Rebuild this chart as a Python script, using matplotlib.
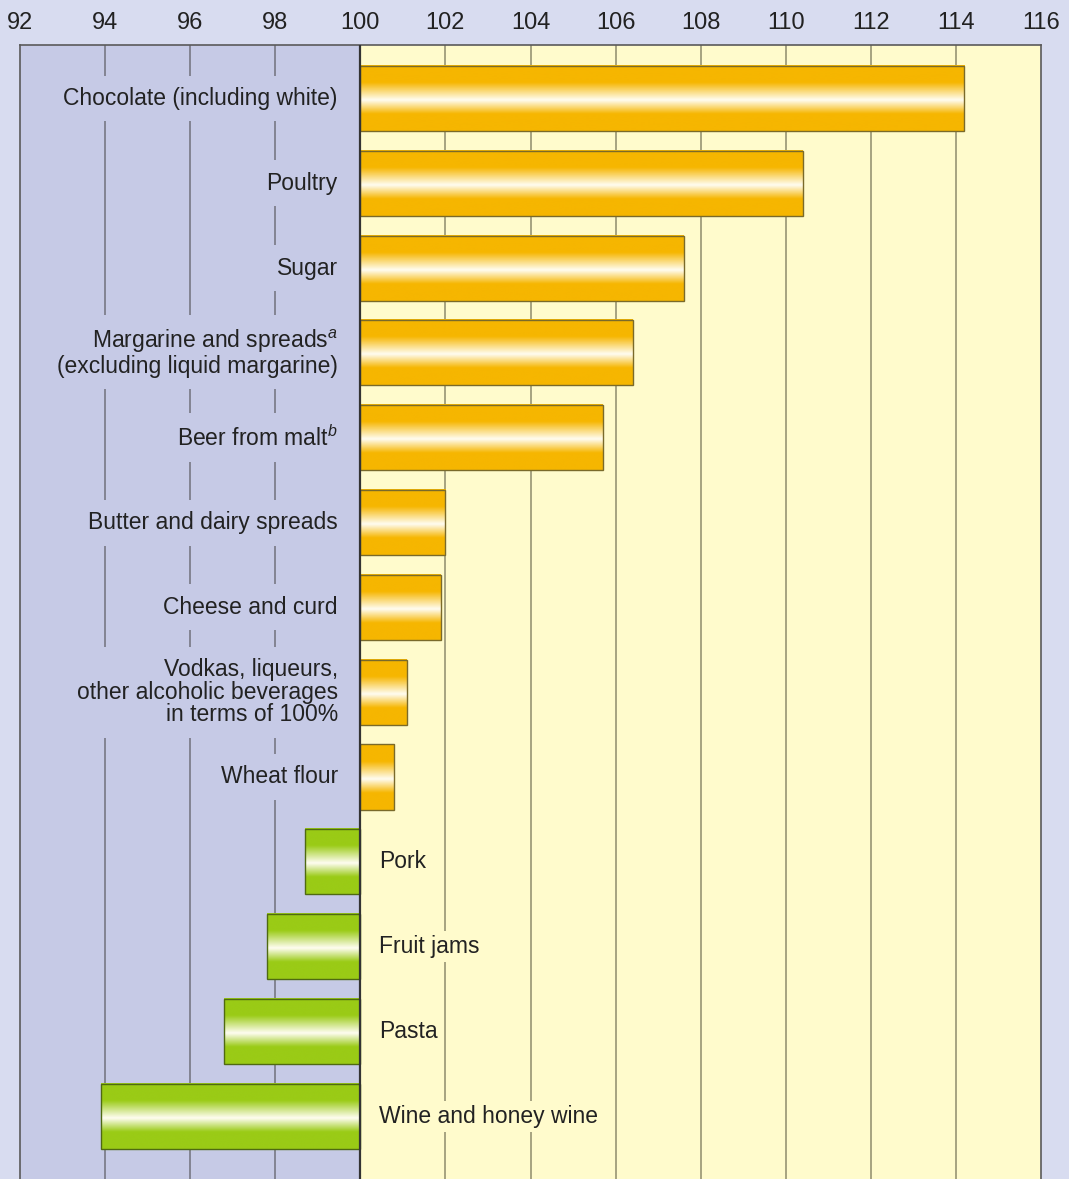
import numpy as np
import matplotlib as mpl
import matplotlib.pyplot as plt
from matplotlib.colors import LinearSegmentedColormap
from matplotlib.patches import Rectangle

plt.rc('font', family='Liberation Sans', size=16.5)
plt.rc('mathtext', fontset='custom', rm='Liberation Sans',
       it='Liberation Sans:italic')

# Index values, previous year = 100
CATEGORIES = [
    'Chocolate (including white)',
    'Poultry',
    'Sugar',
    'Margarine and spreads$^{a}$\n(excluding liquid margarine)',
    'Beer from malt$^{b}$',
    'Butter and dairy spreads',
    'Cheese and curd',
    'Vodkas, liqueurs,\nother alcoholic beverages\nin terms of 100%',
    'Wheat flour',
    'Pork',
    'Fruit jams',
    'Pasta',
    'Wine and honey wine',
]
VALUES = [114.2, 110.4, 107.6, 106.4, 105.7, 102.0, 101.9, 101.1, 100.8,
          98.7, 97.8, 96.8, 93.9]
TICKS = list(range(92, 117, 2))

BASE = 100
OUTER_BG = '#d8dcf0'
LEFT_BG = '#c6cae6'
RIGHT_BG = '#fffbcc'
ORANGE = '#f6b600'
GREEN = '#9acb16'
GRID_LEFT = '#70707c'
GRID_RIGHT = '#8e8c6c'

BAR_H = 0.767


def gradient_cmap(color):
    return LinearSegmentedColormap.from_list(
        'shine', [(0, color), (0.26, color), (0.53, '#fffdf2'),
                  (0.74, color), (1, color)])


fig = plt.figure(figsize=(10.69, 11.79), dpi=100, facecolor=OUTER_BG)
ax = fig.add_axes([20 / 1069, 0, 1021 / 1069, 1 - 45 / 1179])
ax.set_facecolor(RIGHT_BG)
ax.axvspan(92, BASE, color=LEFT_BG, zorder=0, lw=0)

for t in TICKS[1:-1]:
    if t != BASE:
        ax.axvline(t, color=GRID_LEFT if t < BASE else GRID_RIGHT,
                   lw=1.1, zorder=1)

grad = np.linspace(0, 1, 200).reshape(-1, 1)
for i, (cat, val) in enumerate(zip(CATEGORIES, VALUES)):
    y = -i
    up = val >= BASE
    color = ORANGE if up else GREEN
    x0, x1 = (BASE, val) if up else (val, BASE)
    ax.imshow(grad, cmap=gradient_cmap(color), origin='upper', aspect='auto',
              extent=(x0, x1, y - BAR_H / 2, y + BAR_H / 2),
              interpolation='bicubic', zorder=3)
    ax.add_patch(Rectangle((x0, y - BAR_H / 2), x1 - x0, BAR_H, fill=False,
                           edgecolor='#7a6a2a' if up else '#4f6a12',
                           lw=1.0, zorder=4))
    # labels sit on a patch of background so they cut through the grid
    if up:
        ax.text(BASE - 0.53, y, cat, ha='right', va='center', color='#222222',
                linespacing=0.97, multialignment='right', zorder=2,
                bbox=dict(boxstyle='square,pad=0.5', fc=LEFT_BG, ec='none'))
    else:
        ax.text(BASE + 0.45, y, cat, ha='left', va='center', color='#222222',
                zorder=2,
                bbox=dict(boxstyle='square,pad=0.18', fc=RIGHT_BG, ec='none'))

ax.axvline(BASE, color='#333333', lw=1.6, zorder=5)

ax.set_xlim(92, 116)
ax.set_ylim(-12.74, 0.631)
ax.xaxis.tick_top()
ax.set_xticks(TICKS)
ax.tick_params(axis='x', length=0, pad=8, labelsize=17, labelcolor='#222222')
ax.set_yticks([])
for side in ('top', 'left', 'right'):
    ax.spines[side].set_color('#5a5a5a')
    ax.spines[side].set_linewidth(1.2)
ax.spines['bottom'].set_visible(False)

fig.savefig('out.png', dpi=100, facecolor=OUTER_BG)
